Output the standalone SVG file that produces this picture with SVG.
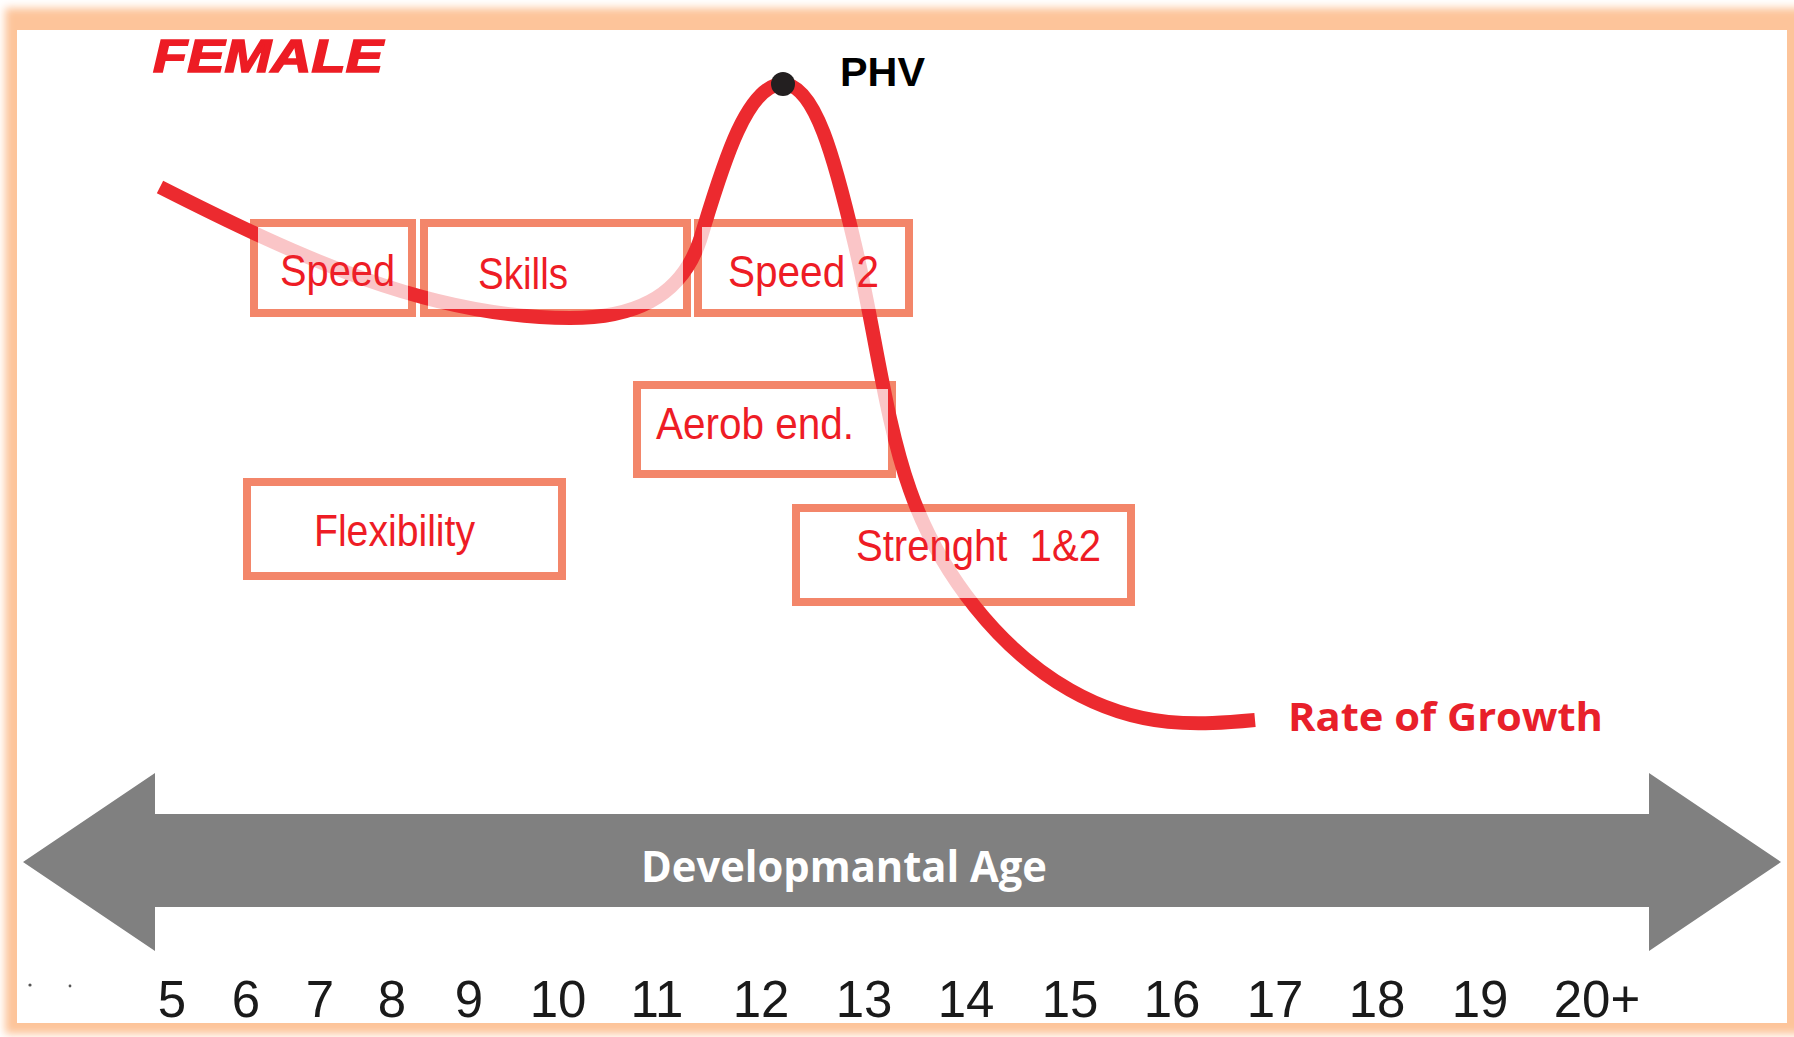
<svg xmlns="http://www.w3.org/2000/svg" width="1794" height="1037" viewBox="0 0 1794 1037">
  <style>
    .box{fill:none;stroke:#f3866a;stroke-width:8}
    .lbl{font-family:"Liberation Sans",Arial,sans-serif;font-size:45px;fill:#ee1c25}
    .age{font-family:"Liberation Sans",Arial,sans-serif;font-size:51px;fill:#1a1a1a;text-anchor:middle}
    .bold{font-family:"Open Sans","Liberation Sans",sans-serif;font-weight:bold}
  </style>
  <defs>
    <filter id="soft" x="-5%" y="-5%" width="110%" height="110%">
      <feGaussianBlur stdDeviation="4"/>
    </filter>
    <!-- curve fades to a light tint where it runs inside a box -->
    <mask id="veil" maskUnits="userSpaceOnUse" x="0" y="0" width="1794" height="1037">
      <rect width="1794" height="1037" fill="#fff"/>
      <rect x="258" y="227" width="150" height="82" fill="#454545"/>
      <rect x="428" y="227" width="255" height="82" fill="#454545"/>
      <rect x="702" y="227" width="203" height="82" fill="#454545"/>
      <rect x="641" y="389" width="247" height="81" fill="#454545"/>
      <rect x="251" y="486" width="307" height="86" fill="#454545"/>
      <rect x="800" y="512" width="327" height="86" fill="#454545"/>
    </mask>
  </defs>

  <!-- page frame -->
  <rect width="1794" height="1037" fill="#fff"/>
  <rect x="5" y="8" width="1800" height="1026" fill="#fdc49a" filter="url(#soft)"/>
  <rect x="17" y="30" width="1770" height="993" fill="#fff"/>

  <!-- developmental age axis -->
  <g id="axis">
    <polygon points="23,862 155,773 155,814 1649,814 1649,773 1781,862 1649,951 1649,907 155,907 155,951" fill="#808080"/>
    <text class="bold" x="641" y="882" font-size="43" fill="#fff" textLength="406" lengthAdjust="spacingAndGlyphs">Developmantal Age</text>
  </g>

  <g id="ages">
    <circle cx="30" cy="985" r="1.6" fill="#555"/>
    <circle cx="70" cy="986" r="1.4" fill="#555"/>
    <text class="age" x="172" y="1017">5</text>
    <text class="age" x="246" y="1017">6</text>
    <text class="age" x="320" y="1017">7</text>
    <text class="age" x="392" y="1017">8</text>
    <text class="age" x="469" y="1017">9</text>
    <text class="age" x="558" y="1017">10</text>
    <text class="age" x="657" y="1017">11</text>
    <text class="age" x="761" y="1017">12</text>
    <text class="age" x="864" y="1017">13</text>
    <text class="age" x="966" y="1017">14</text>
    <text class="age" x="1070" y="1017">15</text>
    <text class="age" x="1172" y="1017">16</text>
    <text class="age" x="1275" y="1017">17</text>
    <text class="age" x="1377" y="1017">18</text>
    <text class="age" x="1480" y="1017">19</text>
    <text class="age" x="1597" y="1017">20+</text>
  </g>

  <g id="title">
    <text x="153" y="72" font-family="'Liberation Sans',Arial,sans-serif" font-weight="bold" font-style="italic" font-size="47" fill="#ed1c24" stroke="#ed1c24" stroke-width="1.6" textLength="230" lengthAdjust="spacingAndGlyphs">FEMALE</text>
  </g>

  <!-- training windows -->
  <g id="node-speed">
    <rect class="box" x="254" y="223" width="158" height="90"/>
    <text class="lbl" x="280" y="286" textLength="115" lengthAdjust="spacingAndGlyphs">Speed</text>
  </g>
  <g id="node-skills">
    <rect class="box" x="424" y="223" width="263" height="90"/>
    <text class="lbl" x="478" y="289" textLength="90" lengthAdjust="spacingAndGlyphs">Skills</text>
  </g>
  <g id="node-speed2">
    <rect class="box" x="698" y="223" width="211" height="90"/>
    <text class="lbl" x="728" y="287" textLength="151" lengthAdjust="spacingAndGlyphs">Speed 2</text>
  </g>
  <g id="node-aerob">
    <rect class="box" x="637" y="385" width="255" height="89"/>
    <text class="lbl" x="656" y="439" textLength="198" lengthAdjust="spacingAndGlyphs">Aerob end.</text>
  </g>
  <g id="node-flexibility">
    <rect class="box" x="247" y="482" width="315" height="94"/>
    <text class="lbl" x="314" y="546" textLength="161" lengthAdjust="spacingAndGlyphs">Flexibility</text>
  </g>
  <g id="node-strength">
    <rect class="box" x="796" y="508" width="335" height="94"/>
    <text class="lbl" x="856" y="561" xml:space="preserve" textLength="245" lengthAdjust="spacingAndGlyphs">Strenght  1&amp;2</text>
  </g>

  <!-- growth-rate curve with peak height velocity -->
  <g id="connectors">
    <path d="M160,187 C300,258 430,318 570,318 C630,318 680,300 700,240 C720,175 745,84 783,84 C815,84 835,160 855,245 C875,330 885,420 910,490 C940,575 1000,650 1070,690 C1140,730 1200,725 1255,720" fill="none" stroke="#ec2a2f" stroke-width="14" mask="url(#veil)"/>
    <circle cx="783" cy="84" r="12" fill="#231f20"/>
  </g>

  <g id="label-phv">
    <text x="840" y="86" font-family="'Liberation Sans',Arial,sans-serif" font-weight="bold" font-size="40" fill="#000" textLength="85" lengthAdjust="spacingAndGlyphs">PHV</text>
  </g>
  <g id="label-rate">
    <text class="bold" x="1288" y="731" font-size="40" fill="#e8202a" textLength="315" lengthAdjust="spacingAndGlyphs">Rate of Growth</text>
  </g>
</svg>
